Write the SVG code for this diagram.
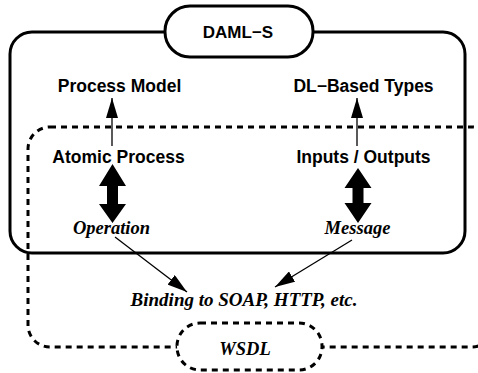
<svg xmlns="http://www.w3.org/2000/svg" width="478" height="373" viewBox="0 0 478 373">
<style>
.sans{font-family:"Liberation Sans",Arial,sans-serif;font-weight:bold;font-size:17.5px;fill:#000;text-anchor:middle}
.ser{font-family:"Liberation Serif","Times New Roman",serif;font-weight:bold;font-style:italic;font-size:18.5px;fill:#000;text-anchor:middle}
.solid{fill:none;stroke:#000;stroke-width:3}
.dash{fill:none;stroke:#000;stroke-width:3;stroke-dasharray:6 5}
.thin{stroke:#000;stroke-width:1.3;fill:none}
</style>
<defs>
<marker id="ah" markerUnits="userSpaceOnUse" markerWidth="22" markerHeight="12" refX="20" refY="6" orient="auto">
<path d="M0,0 L20,6 L0,12 Z" fill="#000"/>
</marker>
</defs>
<rect width="478" height="373" fill="#fff"/>
<g id="daml-s-box"><rect class="solid" x="10" y="32" width="455" height="221" rx="22"/></g>
<g id="wsdl-box"><rect class="dash" x="28" y="127" width="466" height="220" rx="22"/></g>
<g id="connectors">
<line class="thin" x1="112" y1="146" x2="112" y2="98" marker-end="url(#ah)"/>
<line class="thin" x1="357" y1="146" x2="357" y2="98" marker-end="url(#ah)"/>
<line class="thin" x1="115" y1="237" x2="187" y2="292" marker-end="url(#ah)"/>
<line class="thin" x1="352" y1="240" x2="275" y2="287" marker-end="url(#ah)"/>
<polygon points="112.5,164 126,186 118,186 118,204 126,204 112.5,223 99,204 107,204 107,186 99,186" fill="#000"/>
<polygon points="358,168 371.5,188 363.5,188 363.5,203 371.5,203 358,223 344.5,203 352.5,203 352.5,188 344.5,188" fill="#000"/>
</g>
<g id="daml-s"><rect class="solid" x="165" y="6" width="148" height="51" rx="25" style="fill:#fff"/><text class="sans" x="238" y="38" style="font-size:17px">DAML−S</text></g>
<g id="wsdl"><rect class="dash" x="177" y="323" width="145" height="47" rx="23" style="fill:#fff"/><text class="ser" x="245" y="355">WSDL</text></g>
<g id="process-model"><text class="sans" x="119.5" y="92">Process Model</text></g>
<g id="dl-types"><text class="sans" x="363.5" y="92">DL−Based Types</text></g>
<g id="atomic-process"><text class="sans" x="118.5" y="163">Atomic Process</text></g>
<g id="inputs-outputs"><text class="sans" x="363.5" y="163">Inputs / Outputs</text></g>
<g id="operation"><text class="ser" x="111.5" y="234">Operation</text></g>
<g id="message"><text class="ser" x="357.5" y="234">Message</text></g>
<g id="binding"><text class="ser" x="244" y="306" style="font-size:19px">Binding to SOAP, HTTP, etc.</text></g>
</svg>
